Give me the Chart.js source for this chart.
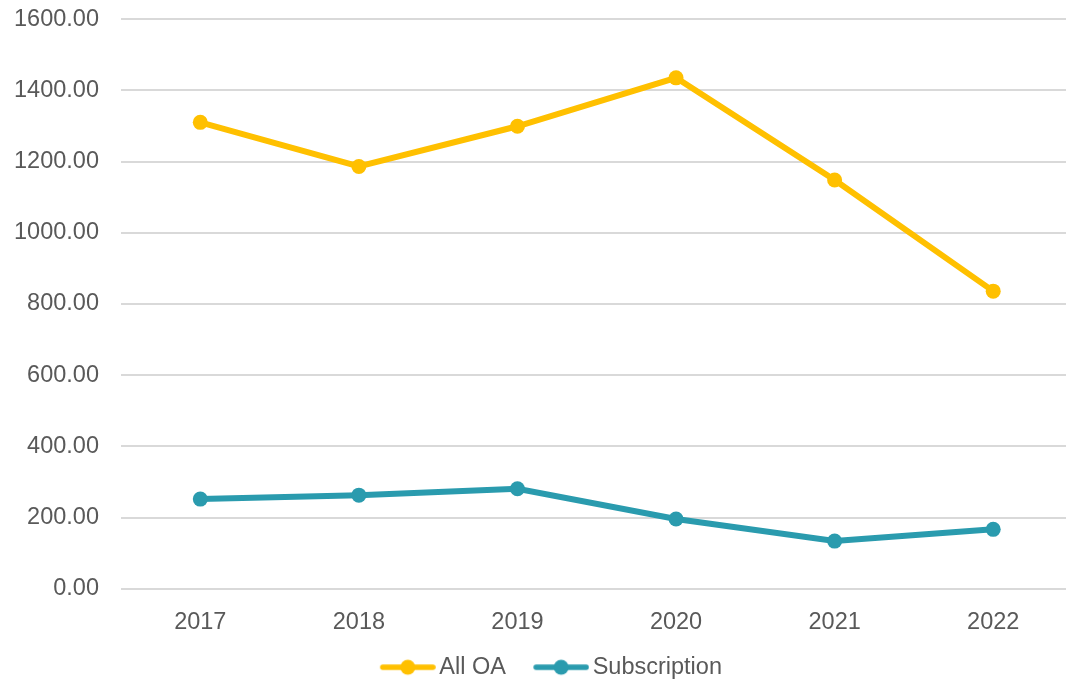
<!DOCTYPE html>
<html lang="en">
<head>
    <meta charset="UTF-8">
    <title>All OA vs Subscription</title>
    <script src="https://cdn.jsdelivr.net/npm/chart.js@4.4.1/dist/chart.umd.min.js"></script>
    <style>
        html, body { margin: 0; padding: 0; background: #fff; overflow: hidden; }
        body { width: 1066px; height: 681px; position: relative; }
        #chart { position: absolute; left: 0; top: -17px; }
    </style>
</head>
<body>
<canvas id="chart" width="1080" height="706"></canvas>
<script>
const years = ['2017', '2018', '2019', '2020', '2021', '2022'];
const allOA = [1310, 1186, 1299, 1435, 1148, 836];
const subscription = [252, 263, 281, 196, 134, 167];
const yTicks = [0, 200, 400, 600, 800, 1000, 1200, 1400, 1600];

const gold = '#FFC000';
const teal = '#2A9BAE';
const textGrey = '#595959';

// legend marker: line with a dot, plus some empty room on the left
// so the two legend entries sit further apart than labels.padding gives
const MARK_GAP = 29;
function legendMarker(color) {
    const c = document.createElement('canvas');
    c.width = 56 + MARK_GAP; c.height = 18;
    const ctx = c.getContext('2d');
    ctx.strokeStyle = color;
    ctx.lineWidth = 5.5;
    ctx.lineCap = 'round';
    ctx.beginPath();
    ctx.moveTo(MARK_GAP + 3, 9); ctx.lineTo(MARK_GAP + 53, 9);
    ctx.stroke();
    ctx.fillStyle = color;
    ctx.beginPath();
    ctx.arc(MARK_GAP + 28, 9, 7.5, 0, Math.PI * 2);
    ctx.fill();
    return c;
}

const font = { family: '"Liberation Sans", Arial, sans-serif', size: 23.5 };

new Chart(document.getElementById('chart'), {
    type: 'line',
    data: {
        labels: years,
        datasets: [{
            label: 'All OA',
            data: allOA,
            borderColor: gold,
            backgroundColor: gold,
            borderWidth: 6,
            pointRadius: 7.5,
            pointHoverRadius: 7.5,
            pointBackgroundColor: gold,
            pointBorderWidth: 0,
            tension: 0
        }, {
            label: 'Subscription',
            data: subscription,
            borderColor: teal,
            backgroundColor: teal,
            borderWidth: 6,
            pointRadius: 7.5,
            pointHoverRadius: 7.5,
            pointBackgroundColor: teal,
            pointBorderWidth: 0,
            tension: 0
        }]
    },
    options: {
        responsive: false,
        animation: false,
        layout: { padding: { left: 1, top: 0, right: 0, bottom: 0 } },
        scales: {
            x: {
                offset: true,
                grid: { display: false },
                border: { display: false },
                ticks: { color: textGrey, font: font, padding: 12 }
            },
            y: {
                min: 0,
                max: 1600,
                afterBuildTicks: axis => { axis.ticks = yTicks.map(v => ({ value: v })); },
                afterFit: axis => { axis.width = 120; },
                grid: { color: '#d9d9d9', lineWidth: 2, drawTicks: false },
                border: { display: false },
                ticks: {
                    color: textGrey,
                    font: font,
                    padding: 22,
                    callback: v => Number(v).toFixed(2)
                }
            }
        },
        plugins: {
            legend: {
                position: 'bottom',
                labels: {
                    color: textGrey,
                    font: font,
                    usePointStyle: true,
                    pointStyleWidth: 39.5 + MARK_GAP,
                    padding: 6.5,
                    generateLabels: chart => chart.data.datasets.map((ds, i) => ({
                        text: ds.label,
                        fontColor: textGrey,
                        pointStyle: legendMarker(ds.borderColor),
                        datasetIndex: i,
                        lineWidth: 0,
                        hidden: false
                    }))
                }
            },
            tooltip: { enabled: false }
        }
    }
});
</script>
</body>
</html>
